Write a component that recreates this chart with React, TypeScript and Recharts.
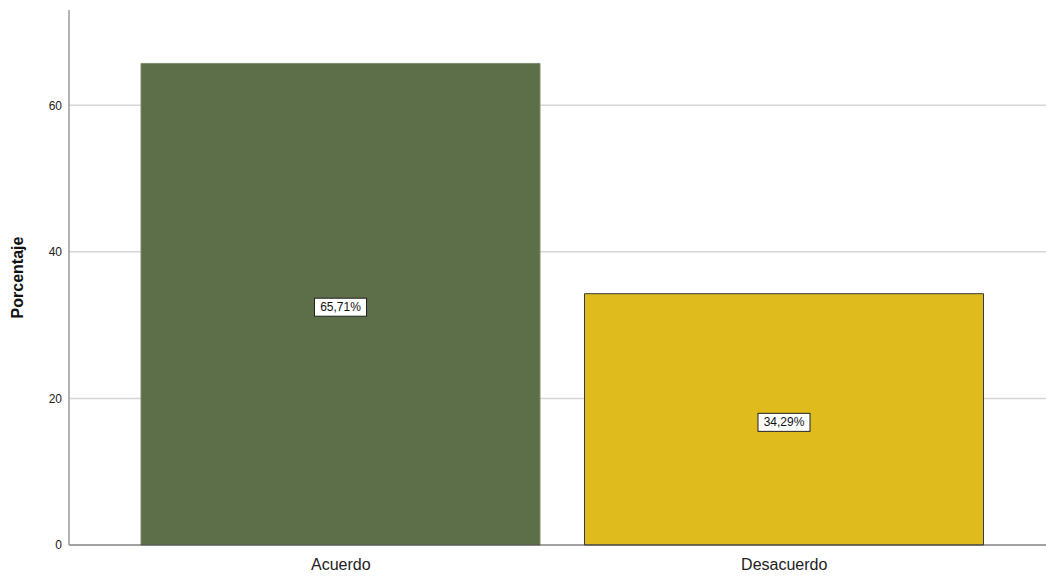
import { BarChart, Bar, XAxis, YAxis, CartesianGrid, Cell, LabelList, Label } from 'recharts';

const categories = ['Acuerdo', 'Desacuerdo'];
const percentages = [65.71, 34.29];
const yTicks = [0, 20, 40, 60];
const gridValues = [20, 40, 60];

const BAR_COLORS = ['#5c6f48', '#e0bb1e'];
const BAR_STROKES = ['#7f8c70', '#3a3a3a'];

const data = categories.map((name, i) => ({ name, value: percentages[i] }));

const FONT = '"Liberation Sans", Arial, sans-serif';

const renderBoxLabel = (props: any) => {
  const { x, y, width, height, value } = props;
  const text = value.toFixed(2).replace('.', ',') + '%';
  const cx = x + width / 2;
  const cy = y + height / 2 + 3;
  const w = 52;
  const h = 18;
  return (
    <g>
      <rect x={cx - w / 2} y={cy - h / 2} width={w} height={h} fill="#fff" stroke="#222" strokeWidth={1} />
      <text x={cx} y={cy + 4} textAnchor="middle" fontSize={12} fontFamily={FONT} fill="#111">
        {text}
      </text>
    </g>
  );
};

export default function App() {
  return (
    <div style={{ position: 'absolute', left: 0, top: 0, background: '#fff' }}>
      <BarChart
        width={1046}
        height={577}
        data={data}
        margin={{ top: 10, right: 0, left: 0, bottom: 0 }}
      >
        <CartesianGrid vertical={false} horizontalValues={gridValues} stroke="#d6d6d6" strokeWidth={1.5} />
        <XAxis
          dataKey="name"
          padding={{ left: 50, right: 40 }}
          tickLine={false}
          tickSize={0}
          tickMargin={14}
          height={32}
          stroke="#444"
          tick={{ fontSize: 16, fill: '#222', fontFamily: FONT }}
        />
        <YAxis
          width={69}
          domain={[0, 73]}
          ticks={yTicks}
          tickLine={false}
          tickSize={0}
          tickMargin={7}
          stroke="#9a9a9a"
          strokeWidth={1.5}
          tick={{ fontSize: 12, fill: '#222', fontFamily: FONT }}
        >
          <Label
            value="Porcentaje"
            angle={-90}
            position="insideLeft"
            offset={17}
            style={{ fontSize: 16, fontWeight: 'bold', fill: '#111', fontFamily: FONT, textAnchor: 'middle' }}
          />
        </YAxis>
        <Bar dataKey="value" barSize={399} isAnimationActive={false}>
          {data.map((_, i) => (
            <Cell key={i} fill={BAR_COLORS[i]} stroke={BAR_STROKES[i]} strokeWidth={1} />
          ))}
          <LabelList dataKey="value" content={renderBoxLabel} />
        </Bar>
      </BarChart>
    </div>
  );
}
